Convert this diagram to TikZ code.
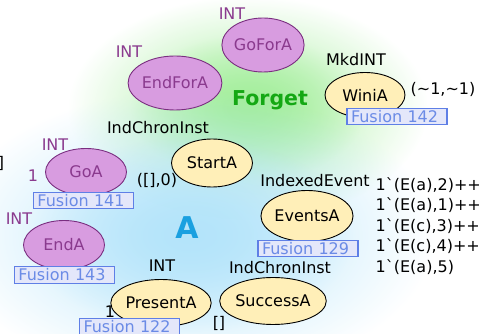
\documentclass[tikz,border=0pt]{standalone}
\usepackage{fontspec}
\setmainfont{DejaVu Sans}[Ligatures=TeXOff]
\usetikzlibrary{shapes.geometric,fadings}
\definecolor{purpfill}{HTML}{D89CE0}
\definecolor{purpline}{HTML}{7A2E80}
\definecolor{purptext}{HTML}{8A3A8E}
\definecolor{yelfill}{HTML}{FFEFB8}
\definecolor{fusfill}{HTML}{E4E7FA}
\definecolor{fusline}{HTML}{5F7FE6}
\definecolor{fustext}{HTML}{6B8BE6}
\definecolor{forgetgreen}{HTML}{14A814}
\definecolor{ablue}{HTML}{1AA0E0}
\definecolor{glowgreen}{HTML}{A4EE9C}
\definecolor{glowblue}{HTML}{B4E4FA}
\tikzfading[name=glowfade, inner color=transparent!0, outer color=transparent!100]
\begin{document}
\begin{tikzpicture}[x=1pt,y=-1pt,
  every node/.style={font={\fontsize{16}{19}\selectfont}, inner sep=0pt},
  place/.style={ellipse, draw, line width=0.9pt, minimum width=81pt, minimum height=48pt},
  pplace/.style={place, fill=purpfill, draw=purpline, text=purptext},
  yplace/.style={place, fill=yelfill, draw=black},
  fusion/.style={draw=fusline, fill=fusfill, text=fustext, line width=1.2pt, text width=92pt, inner xsep=4pt, minimum height=16.5pt, align=left},
  plbl/.style={text=purptext},
  lbl/.style={text=black},
  marking/.style={text=black, anchor=west},
  glow/.style={path fading=glowfade}
]
\useasboundingbox (0,0) rectangle (483,334);
% background glows
\fill[glowgreen, glow] (248,108) ellipse (180 and 112);
\fill[glowgreen, glow] (248,108) ellipse (118 and 74);
\fill[glowblue, glow] (190,235) ellipse (245 and 145);
\fill[glowblue, glow] (190,235) ellipse (165 and 98);

% page Forget
\node[pplace, minimum width=80pt, minimum height=54pt] (goforA) at (263,45) {GoForA};
\node[plbl] (goforAtype) at (232,14) {INT};
\node[pplace, minimum height=54pt] (endforA) at (175,83) {EndForA};
\node[plbl] (endforAtype) at (129,52) {INT};
\node[text=forgetgreen, font={\fontsize{20.5}{24}\selectfont\bfseries}] (forget) at (270,100) {Forget};
\node[yplace, minimum width=80pt, minimum height=45pt] (winiA) at (365,95) {WiniA};
\node[lbl] (winiAtype) at (356,60) {MkdINT};
\node[lbl] (winiAinit) at (443,89) {(\textasciitilde1,\textasciitilde1)};
\node[fusion] (fus142) at (397,116.5) {Fusion 142};

% page A
\node[yplace] (startA) at (212,163) {StartA};
\node[lbl] (startAtype) at (158,128) {IndChronInst};
\node[lbl] (startAinit) at (157,180) {([],0)};
\node[lbl] (cutbracket) at (1,163) {]};
\node[pplace, minimum height=47pt] (goA) at (86,172) {GoA};
\node[plbl] (goAtype) at (55,145) {INT};
\node[plbl] (goAinit) at (33,176) {1};
\node[fusion] (fus141) at (83.5,200.5) {Fusion 141};
\node[pplace, minimum height=49pt] (endA) at (64,245) {EndA};
\node[plbl] (endAtype) at (19,219) {INT};
\node[fusion] (fus143) at (64.5,275) {Fusion 143};
\node[text=ablue, font={\fontsize{30}{34}\selectfont\bfseries}] (pageA) at (187,228) {A};
\node[yplace, minimum height=47pt] (presentA) at (161,303) {PresentA};
\node[lbl] (presentAtype) at (162,266) {INT};
\node[lbl] (presentAinit) at (110,311.5) {1};
\node[fusion] (fus122) at (129.5,326.5) {Fusion 122};
\node[lbl] (successAinit) at (219,323) {[]};
\node[yplace, minimum width=96pt, minimum height=47pt] (successA) at (273,301) {SuccessA};
\node[lbl] (successAtype) at (280,268) {IndChronInst};
\node[yplace, minimum height=51pt] (eventsA) at (307,216) {EventsA};
\node[lbl] (eventsAtype) at (315,181) {IndexedEvent};
\node[fusion] (fus129) at (308,248.5) {Fusion 129};
\node[marking] (m1) at (375.5,185) {1`(E(a),2)++};
\node[marking] (m2) at (375.5,205.5) {1`(E(a),1)++};
\node[marking] (m3) at (375.5,226) {1`(E(c),3)++};
\node[marking] (m4) at (375.5,246.5) {1`(E(c),4)++};
\node[marking] (m5) at (375.5,267) {1`(E(a),5)};
\end{tikzpicture}
\end{document}
